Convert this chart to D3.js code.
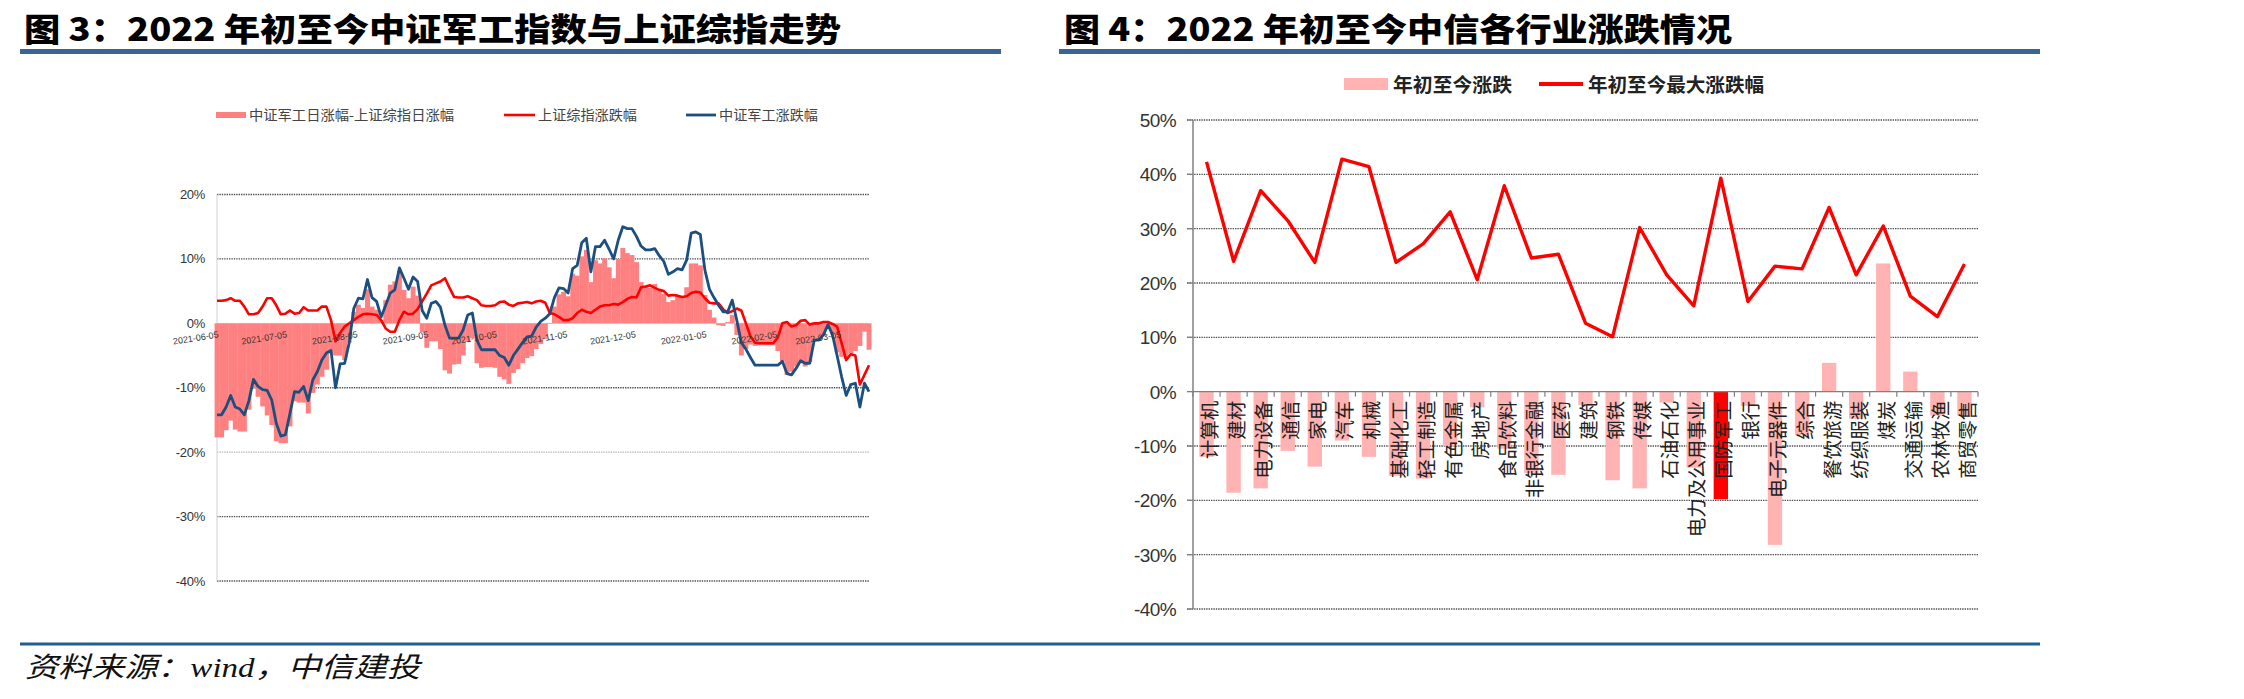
<!DOCTYPE html>
<html><head><meta charset="utf-8">
<script src="https://cdn.jsdelivr.net/npm/d3@7"></script>
<style>body{margin:0;background:#fff}svg{display:block}</style>
</head><body>
<svg id="c" width="2244" height="699"></svg>
<script>
// ---------- Figure 3 data ----------
const dates = ["2021-06-05","2021-06-07","2021-06-09","2021-06-11","2021-06-13","2021-06-15","2021-06-17","2021-06-19","2021-06-21","2021-06-23","2021-06-25","2021-06-27","2021-06-29",
"2021-07-01","2021-07-03","2021-07-05","2021-07-07","2021-07-09","2021-07-11","2021-07-13","2021-07-15","2021-07-17","2021-07-19","2021-07-21","2021-07-23","2021-07-25","2021-07-27","2021-07-29","2021-07-31",
"2021-08-02","2021-08-04","2021-08-06","2021-08-08","2021-08-10","2021-08-12","2021-08-14","2021-08-16","2021-08-18","2021-08-20","2021-08-22","2021-08-24","2021-08-26","2021-08-28","2021-08-30",
"2021-09-01","2021-09-03","2021-09-05","2021-09-07","2021-09-09","2021-09-11","2021-09-13","2021-09-15","2021-09-17","2021-09-19","2021-09-21","2021-09-23","2021-09-25","2021-09-27","2021-09-29",
"2021-10-01","2021-10-03","2021-10-05","2021-10-07","2021-10-09","2021-10-11","2021-10-13","2021-10-15","2021-10-17","2021-10-19","2021-10-21","2021-10-23","2021-10-25","2021-10-27","2021-10-29","2021-10-31",
"2021-11-02","2021-11-04","2021-11-06","2021-11-08","2021-11-10","2021-11-12","2021-11-14","2021-11-16","2021-11-18","2021-11-20","2021-11-22","2021-11-24","2021-11-26","2021-11-28","2021-11-30",
"2021-12-02","2021-12-04","2021-12-06","2021-12-08","2021-12-10","2021-12-12","2021-12-14","2021-12-16","2021-12-18","2021-12-20","2021-12-22","2021-12-24","2021-12-26","2021-12-28","2021-12-30",
"2022-01-01","2022-01-03","2022-01-05","2022-01-07","2022-01-09","2022-01-11","2022-01-13","2022-01-15","2022-01-17","2022-01-19","2022-01-21","2022-01-23","2022-01-25","2022-01-27","2022-01-29","2022-01-31",
"2022-02-02","2022-02-04","2022-02-06","2022-02-08","2022-02-10","2022-02-12","2022-02-14","2022-02-16","2022-02-18","2022-02-20","2022-02-22","2022-02-24","2022-02-26","2022-02-28",
"2022-03-02","2022-03-04","2022-03-06","2022-03-08","2022-03-10","2022-03-12","2022-03-14","2022-03-16","2022-03-18"];

// 上证综指涨跌幅 (%)
const shChange = [3.5,3.5,3.6,3.9,3.5,3.5,2.6,1.4,1.4,1.6,2.6,3.9,3.9,2.8,1.4,
1.5,2.0,1.5,1.6,2.5,2.0,2.0,2.0,2.6,2.6,0.5,-2.8,-1.5,-0.5,0.0,
0.5,1.0,1.4,1.5,1.4,1.3,0.5,-0.8,-1.3,-1.3,0.5,1.8,1.4,1.5,2.2,
3.4,4.6,5.9,6.2,6.5,7.0,5.5,4.1,4.0,4.0,4.2,3.9,3.6,2.8,2.7,
2.7,2.8,3.3,3.4,2.9,2.7,3.1,3.2,3.3,3.1,3.4,3.5,3.2,1.6,1.4,
1.0,0.5,0.5,0.8,1.6,2.1,1.8,1.6,2.1,2.6,2.8,2.8,3.0,2.9,3.3,
3.8,4.1,4.0,5.6,5.7,5.9,5.5,5.2,5.0,4.3,4.4,4.3,4.1,4.2,4.7,
4.9,4.8,3.9,3.2,3.1,3.1,2.2,1.6,1.9,2.3,2.0,0.0,-2.0,-3.0,-3.1,
-3.1,-3.1,-3.1,-2.2,0.0,0.2,-0.5,-0.3,0.4,0.5,-0.2,0.0,0.0,0.2,0.2,
-0.1,-0.5,-3.1,-5.7,-4.8,-5.0,-9.5,-8.0,-6.5];

// 中证军工涨跌幅 (%)
const jgChange = [-14.2,-14.2,-13.0,-11.2,-13.0,-13.3,-14.2,-12.0,-8.7,-9.8,-10.3,-10.4,-11.9,-15.5,-17.5,
-17.3,-14.0,-10.6,-10.7,-9.8,-12.0,-8.8,-7.5,-5.7,-4.6,-4.2,-10.0,-6.3,-6.2,-3.0,
2.3,3.9,3.8,6.8,4.0,3.4,1.0,2.8,4.7,5.2,8.6,7.0,5.3,7.2,6.5,
2.0,0.8,3.1,3.4,2.5,-0.3,-2.3,-2.3,-2.3,-1.0,1.3,1.6,-2.6,-4.1,-4.1,
-4.1,-4.1,-5.0,-5.3,-6.5,-5.0,-4.0,-3.0,-2.1,-2.0,-0.6,0.3,0.8,1.5,4.0,
5.5,5.4,4.7,8.5,9.0,12.5,13.2,8.0,11.9,11.9,12.9,11.5,10.0,12.9,15.0,
14.7,14.7,13.5,12.0,11.4,11.4,11.6,10.5,9.6,7.6,8.0,8.5,8.3,9.8,14.0,
14.2,13.8,8.3,5.3,4.0,2.8,1.8,1.8,3.6,0.5,-3.0,-4.0,-5.3,-6.5,-6.5,
-6.5,-6.5,-6.5,-6.5,-5.9,-7.8,-8.0,-7.0,-5.8,-6.2,-6.2,-2.6,-2.6,-1.8,-0.2,
-1.8,-5.0,-8.3,-11.2,-9.5,-9.3,-13.0,-9.3,-10.6];

// 中证军工日涨幅-上证综指日涨幅 (%)
const diffChange = [-17.7,-17.7,-16.6,-15.1,-16.5,-16.8,-16.8,-13.4,-10.1,-11.4,-12.9,-14.3,-15.8,-18.3,-18.6,
-18.6,-16.0,-12.1,-12.3,-12.3,-14.0,-10.8,-9.5,-8.3,-7.2,-4.7,-5.0,-5.0,-5.7,-3.0,
1.8,2.9,2.4,5.3,2.6,2.1,0.5,3.6,6.0,6.5,8.1,5.2,3.9,5.7,4.3,
-1.4,-3.8,-2.8,-2.8,-4.0,-7.3,-7.8,-6.4,-6.3,-5.0,-2.9,-2.3,-6.2,-6.9,-6.8,
-6.8,-6.9,-8.3,-8.7,-9.4,-7.7,-7.1,-6.2,-5.4,-5.1,-4.0,-3.2,-2.4,-0.1,2.6,
4.5,4.9,4.2,7.7,7.4,10.4,11.4,6.4,9.8,9.3,10.1,8.7,7.0,10.0,11.7,
10.9,10.6,9.5,6.4,5.7,5.5,6.1,5.3,4.6,3.3,3.6,4.2,4.2,5.6,9.3,
9.3,9.0,4.4,2.1,0.9,-0.3,-0.4,0.2,1.3,-1.8,-5.0,-4.0,-3.3,-3.5,-3.4,
-3.4,-3.4,-3.4,-4.3,-5.9,-8.0,-7.5,-6.7,-6.2,-6.7,-6.0,-2.6,-2.6,-2.0,-0.4,
-1.7,-4.5,-5.2,-5.5,-4.7,-4.3,-3.5,-1.3,-4.1];

const leftYTicks = [20,10,0,-10,-20,-30,-40];
const leftXTicks = ["2021-06-05","2021-07-05","2021-08-05","2021-09-05","2021-10-05","2021-11-05","2021-12-05","2022-01-05","2022-02-05","2022-03-05"];
const leftLegend = ["中证军工日涨幅-上证综指日涨幅","上证综指涨跌幅","中证军工涨跌幅"];

// ---------- Figure 4 data ----------
const industries = ["计算机","建材","电力设备","通信","家电","汽车","机械","基础化工","轻工制造","有色金属","房地产","食品饮料","非银行金融","医药","建筑","钢铁","传媒","石油石化","电力及公用事业","国防军工","银行","电子元器件","综合","餐饮旅游","纺织服装","煤炭","交通运输","农林牧渔","商贸零售"];
const ytdChange = [-12.0,-18.6,-17.8,-10.9,-13.8,-9.0,-12.0,-15.5,-16.0,-10.0,-2.9,-10.5,-15.0,-15.3,-2.5,-16.3,-17.8,-2.0,-14.0,-19.8,-2.6,-28.2,-8.0,5.3,-5.0,23.6,3.7,-4.4,-4.4];
const maxChange = [42.3,24.0,37.0,31.5,23.8,42.8,41.4,23.8,27.2,33.1,20.6,37.9,24.6,25.3,12.6,10.1,30.2,21.5,15.8,39.3,16.6,23.1,22.6,33.9,21.5,30.5,17.6,13.8,23.5];
const rightYTicks = [50,40,30,20,10,0,-10,-20,-30,-40];
const rightLegend = ["年初至今涨跌","年初至今最大涨跌幅"];
const highlight = "国防军工";

// ---------- drawing ----------
const svg = d3.select("#c");
const CJK = '"Noto Sans CJK SC", sans-serif';
const LAT = '"Liberation Sans", Arial, sans-serif';
const parse = d3.timeParse("%Y-%m-%d");
const pct = d => d + "%";

// titles and rules
function title(x, w, txt){
  svg.append("text").attr("x",x).attr("y",41).attr("font-family",CJK)
    .attr("font-weight",900).attr("font-size",32).attr("fill","#000")
    .attr("textLength",w).attr("lengthAdjust","spacingAndGlyphs").text(txt);
}
title(24, 817, "图 3：2022 年初至今中证军工指数与上证综指走势");
title(1064, 668, "图 4：2022 年初至今中信各行业涨跌情况");
svg.append("rect").attr("x",20).attr("y",49).attr("width",981).attr("height",5).attr("fill","#3a6494");
svg.append("rect").attr("x",1059).attr("y",49).attr("width",981).attr("height",5).attr("fill","#3a6494");
svg.append("line").attr("x1",20).attr("x2",2040).attr("y1",644).attr("y2",644).attr("stroke","#1f5f94").attr("stroke-width",3);
svg.append("text").attr("x",25).attr("y",677).attr("font-family",'"Liberation Serif", "Noto Sans CJK SC", serif')
  .attr("font-style","italic").attr("font-size",28).attr("fill","#111")
  .attr("textLength",395).attr("lengthAdjust","spacingAndGlyphs").text("资料来源：wind，中信建投");

// ---- left chart ----
const xL = d3.scaleTime().domain([parse("2021-06-05"), parse("2022-03-18")]).range([217, 869]);
const yL = d3.scaleLinear().domain([-40, 20]).range([581, 194.5]);
const gL = svg.append("g");
gL.selectAll(".gl").data(leftYTicks.filter(t => t !== 0)).join("line")
  .attr("x1",217).attr("x2",869).attr("y1",d=>yL(d)).attr("y2",d=>yL(d))
  .attr("stroke",d=> d===-20 ? "#b5b5b5" : "#505050").attr("stroke-width",1.4).attr("stroke-dasharray","1.4,1");
gL.append("line").attr("x1",217).attr("x2",217).attr("y1",yL(20)).attr("y2",yL(-40)).attr("stroke","#d9d9d9").attr("stroke-width",1.2);
gL.append("line").attr("x1",217).attr("x2",869).attr("y1",yL(0)).attr("y2",yL(0)).attr("stroke","#d9d9d9").attr("stroke-width",1);
gL.selectAll(".yl").data(leftYTicks).join("text")
  .attr("x",205).attr("y",d=>yL(d)).attr("dy","0.35em").attr("text-anchor","end")
  .attr("font-family",LAT).attr("font-size",13).attr("fill","#333").attr("letter-spacing",-0.3).text(pct);
const series = dates.map((d,i)=>({date:parse(d), sh:shChange[i], jg:jgChange[i], df:diffChange[i]}));
gL.selectAll(".bar").data(series).join("rect")
  .attr("x",d=>xL(d.date)-2.4).attr("width",4.9)
  .attr("y",d=>Math.min(yL(d.df),yL(0))).attr("height",d=>Math.abs(yL(d.df)-yL(0)))
  .attr("fill","#ff8080");
gL.append("path").datum(series).attr("fill","none").attr("stroke","#ff0000").attr("stroke-width",2.6)
  .attr("stroke-linejoin","round").attr("d",d3.line().x(d=>xL(d.date)).y(d=>yL(d.sh)));
gL.append("path").datum(series).attr("fill","none").attr("stroke","#1b4f80").attr("stroke-width",2.8)
  .attr("stroke-linejoin","round").attr("d",d3.line().x(d=>xL(d.date)).y(d=>yL(d.jg)));
gL.selectAll(".xl").data(leftXTicks).join("text")
  .attr("transform",d=>`translate(${xL(parse(d))+2},${yL(0)+14}) rotate(-9)`)
  .attr("text-anchor","end").attr("font-family",LAT).attr("font-size",9).attr("fill","#333").text(d=>d);
// legend
const lg = gL.append("g").attr("font-family",CJK).attr("font-size",14).attr("fill","#444");
lg.append("rect").attr("x",216).attr("y",112).attr("width",30).attr("height",6).attr("fill","#ff8080");
lg.append("line").attr("x1",504).attr("x2",535).attr("y1",115).attr("y2",115).attr("stroke","#ff0000").attr("stroke-width",2.6);
lg.append("line").attr("x1",686).attr("x2",716).attr("y1",115).attr("y2",115).attr("stroke","#1b4f80").attr("stroke-width",2.8);
[[249,205],[538,99],[719,99]].forEach((p,i)=>{
  lg.append("text").attr("x",p[0]).attr("y",120).attr("textLength",p[1]).attr("lengthAdjust","spacingAndGlyphs").text(leftLegend[i]);
});

// ---- right chart ----
const xR = d3.scaleBand().domain(industries).range([1193,1978]).paddingInner(0.47).paddingOuter(0.235);
const stepR = xR.step();
const yR = d3.scaleLinear().domain([-40, 50]).range([609, 120]);
const gR = svg.append("g");
gR.selectAll(".gl").data(rightYTicks.filter(t=>t!==0)).join("line")
  .attr("x1",1187).attr("x2",1978).attr("y1",d=>yR(d)).attr("y2",d=>yR(d))
  .attr("stroke","#505050").attr("stroke-width",1.4).attr("stroke-dasharray","1.4,1");
gR.selectAll(".tk").data(rightYTicks).join("line")
  .attr("x1",1187).attr("x2",1193).attr("y1",d=>yR(d)).attr("y2",d=>yR(d)).attr("stroke","#808080").attr("stroke-width",1.3);
gR.append("line").attr("x1",1193).attr("x2",1193).attr("y1",yR(50)).attr("y2",yR(-40)).attr("stroke","#808080").attr("stroke-width",1.5);
gR.selectAll(".yl").data(rightYTicks).join("text")
  .attr("x",1176).attr("y",d=>yR(d)).attr("dy","0.36em").attr("text-anchor","end")
  .attr("font-family",LAT).attr("font-size",19).attr("fill","#333").attr("letter-spacing",-0.6).text(pct);
gR.selectAll(".bar").data(industries).join("rect")
  .attr("x",d=>xR(d)).attr("width",xR.bandwidth())
  .attr("y",(d,i)=>Math.min(yR(ytdChange[i]),yR(0))).attr("height",(d,i)=>Math.abs(yR(ytdChange[i])-yR(0)))
  .attr("fill",d=> d===highlight ? "#ff0000" : "#ffb3b3");
gR.append("line").attr("x1",1193).attr("x2",1978).attr("y1",yR(0)).attr("y2",yR(0)).attr("stroke","#808080").attr("stroke-width",1.3);
gR.selectAll(".xt").data(d3.range(industries.length+1)).join("line")
  .attr("x1",k=>1193+k*stepR).attr("x2",k=>1193+k*stepR).attr("y1",yR(0)).attr("y2",yR(0)+5)
  .attr("stroke","#808080").attr("stroke-width",1.2);
gR.append("path").datum(maxChange).attr("fill","none").attr("stroke","#ff0000").attr("stroke-width",3.4)
  .attr("stroke-linejoin","round")
  .attr("d",d3.line().x((d,i)=>xR(industries[i])+xR.bandwidth()/2).y(d=>yR(d)));
gR.selectAll(".cl").data(industries).join("text")
  .attr("transform",d=>`translate(${xR(d)+xR.bandwidth()/2+2},${yR(0)+9}) rotate(-90)`)
  .attr("text-anchor","end").attr("dominant-baseline","central")
  .attr("font-family",CJK).attr("font-size",19.5).attr("fill","#222").text(d=>d);
// legend
const rg = gR.append("g").attr("font-family",CJK).attr("font-size",19.5).attr("font-weight",700).attr("fill","#222");
rg.append("rect").attr("x",1344).attr("y",78).attr("width",44).attr("height",12).attr("fill","#ffb3b3");
rg.append("line").attr("x1",1539).attr("x2",1583).attr("y1",84).attr("y2",84).attr("stroke","#ff0000").attr("stroke-width",4);
rg.append("text").attr("x",1393).attr("y",92).attr("textLength",119).attr("lengthAdjust","spacingAndGlyphs").text(rightLegend[0]);
rg.append("text").attr("x",1588).attr("y",92).attr("textLength",176).attr("lengthAdjust","spacingAndGlyphs").text(rightLegend[1]);
</script>
</body></html>
